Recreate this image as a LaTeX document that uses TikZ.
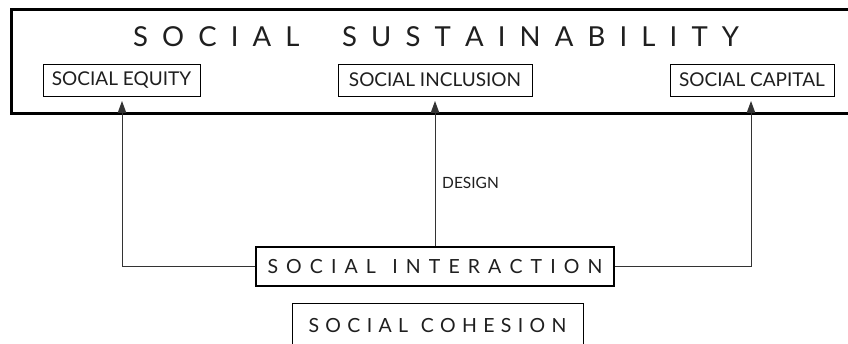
\documentclass[tikz,border=0pt]{standalone}
\usepackage{fontspec}
\setmainfont{Lato}
\usetikzlibrary{arrows.meta}
\newcommand\gp{\hfil}
\begin{document}
\begin{tikzpicture}[x=1pt,y=-1pt,
  labelbox/.style={draw=black,line width=0.9pt,inner sep=0pt,text=black!88},
  conn/.style={draw=black!80,line width=1pt},
  tip/.style={-{Triangle[length=12pt,width=8.5pt]}}]
\useasboundingbox (0,0) rectangle (848,344);
\clip (0,0) rectangle (848,344);
\fill[white] (0,0) rectangle (848,344);
% outer box
\node[draw=black,line width=2.6pt,minimum width=850pt,minimum height=104pt,inner sep=0pt,anchor=north west] (outer) at (10,8) {};
\node[anchor=base,text=black!88,font=\fontsize{27.5}{30}\selectfont,inner sep=0pt] (title) at (436,47)
  {\makebox[606pt][s]{S\gp O\gp C\gp I\gp A\gp L\gp\gp\gp S\gp U\gp S\gp T\gp A\gp I\gp N\gp A\gp B\gp I\gp L\gp I\gp T\gp Y}};
% inner labels
\node[labelbox,minimum width=157pt,minimum height=32pt,font=\fontsize{19}{21}\selectfont] (equity) at (121.5,80) {SOCIAL EQUITY};
\node[labelbox,minimum width=194pt,minimum height=32pt,font=\fontsize{19}{21}\selectfont] (inclusion) at (435,80) {SOCIAL INCLUSION};
\node[labelbox,minimum width=164pt,minimum height=32pt,font=\fontsize{19}{21}\selectfont] (capital) at (752,80) {SOCIAL CAPITAL};
% interaction and cohesion
\node[labelbox,line width=1.2pt,minimum width=358pt,minimum height=39pt,font=\fontsize{19.5}{21}\selectfont] (interaction) at (435,266.5)
  {\makebox[335pt][s]{S\gp O\gp C\gp I\gp A\gp L\gp\gp I\gp N\gp T\gp E\gp R\gp A\gp C\gp T\gp I\gp O\gp N}};
\node[labelbox,minimum width=291pt,minimum height=46pt,font=\fontsize{19.5}{21}\selectfont,anchor=north] (cohesion) at (437.5,303)
  {\raisebox{2pt}{\makebox[258pt][s]{S\gp O\gp C\gp I\gp A\gp L\gp\gp C\gp O\gp H\gp E\gp S\gp I\gp O\gp N}}};
\node[anchor=west,inner sep=0pt,text=black!88,font=\fontsize{15.5}{17}\selectfont] (design) at (442,182.5) {DESIGN};
% connectors
\coordinate (eqtip) at (122,101);
\coordinate (intip) at (435,101);
\coordinate (catip) at (751,101);
\draw[conn,tip] (interaction.west) -| (eqtip);
\draw[conn,tip] (interaction.east) -| (catip);
\draw[conn,tip] (interaction.north) -- (intip);
\end{tikzpicture}
\end{document}
